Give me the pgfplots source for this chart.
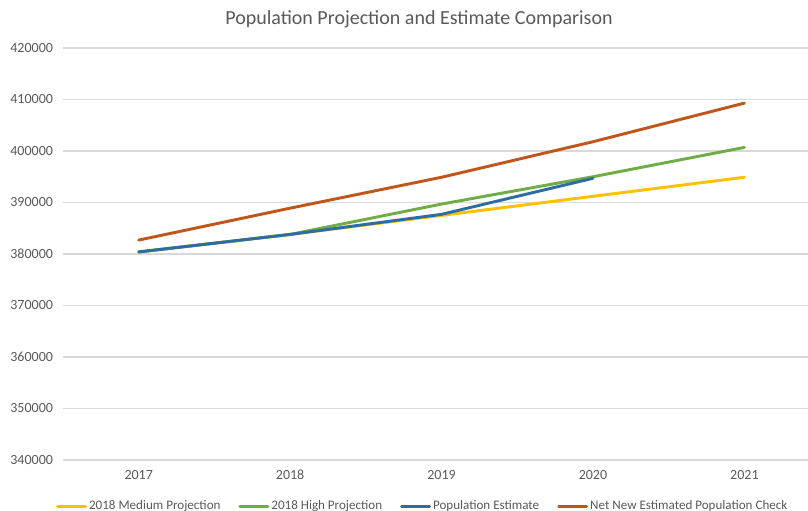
\documentclass[border=0pt]{standalone}
\usepackage{pgfplots}
\pgfplotsset{compat=1.18}
\usepackage{fontspec}
\setmainfont{Carlito}
\definecolor{medproj}{HTML}{FFC000}
\definecolor{highproj}{HTML}{70AD47}
\definecolor{popest}{HTML}{2E6DA4}
\definecolor{netnew}{HTML}{C0561A}
\definecolor{txtgray}{HTML}{595959}
\definecolor{gridgray}{HTML}{D9D9D9}
\begin{document}
\begin{tikzpicture}[x=0.75pt,y=0.75pt]
\path[use as bounding box] (-63,-51) rectangle (745,460);
\begin{axis}[
  at={(0,0)}, anchor=south west,
  scale only axis,
  width=558.75pt, height=309pt,
  xmin=-0.5, xmax=4.42,
  ymin=340000, ymax=420000,
  xtick={0,1,2,3,4},
  xticklabels={2017,2018,2019,2020,2021},
  ytick={340000,350000,360000,370000,380000,390000,400000,410000,420000},
  scaled y ticks=false,
  /pgf/number format/.cd, fixed, use comma=false, 1000 sep={}, assume math mode=true,
  /pgfplots/.cd,
  ymajorgrids,
  grid style={gridgray, line width=0.8pt},
  axis line style={draw=none},
  major tick length=0pt,
  tick label style={font=\fontsize{10.5}{12}\selectfont, text=txtgray},
  yticklabel style={xshift=-4pt},
  xticklabel style={yshift=-4pt},
  clip=false,
  legend columns=4,
  legend style={at={(0.482,-0.112)}, anchor=center, draw=none, fill=none,
    font=\fontsize{9.8}{11}\selectfont, text=txtgray,
    nodes={inner sep=0.5pt},
    /tikz/every odd column/.append style={column sep=1pt},
    /tikz/every even column/.append style={column sep=13pt},
    inner sep=0pt},
  legend image code/.code={\draw[#1, line width=2.2pt] (0pt,0pt) -- (21pt,0pt);},
  every axis plot/.append style={line width=2.2pt, line join=round, line cap=round},
]
\addplot[medproj] coordinates {(0,380400) (1,383800) (2,387500) (3,391200) (4,394900)};
\addlegendentry{2018 Medium Projection}
\addplot[highproj] coordinates {(0,380400) (1,383800) (2,389700) (3,395000) (4,400700)};
\addlegendentry{2018 High Projection}
\addplot[popest] coordinates {(0,380400) (1,383800) (2,387700) (3,394700)};
\addlegendentry{Population Estimate}
\addplot[netnew] coordinates {(0,382700) (1,388900) (2,394900) (3,401800) (4,409300)};
\addlegendentry{Net New Estimated Population Check}
\end{axis}
\node[text=txtgray, font=\fontsize{15}{17}\selectfont] at (356,441) {Population Projection and Estimate Comparison};
\end{tikzpicture}
\end{document}
